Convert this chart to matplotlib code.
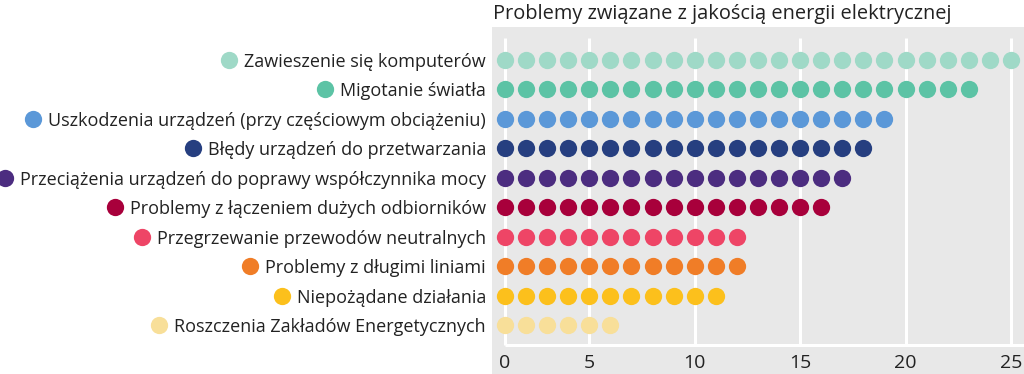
import matplotlib.pyplot as plt
import numpy as np

plt.rcParams['font.family'] = ['Open Sans', 'DejaVu Sans']

categories = [
    'Zawieszenie się komputerów',
    'Migotanie światła',
    'Uszkodzenia urządzeń (przy częściowym obciążeniu)',
    'Błędy urządzeń do przetwarzania',
    'Przeciążenia urządzeń do poprawy współczynnika mocy',
    'Problemy z łączeniem dużych odbiorników',
    'Przegrzewanie przewodów neutralnych',
    'Problemy z długimi liniami',
    'Niepożądane działania',
    'Roszczenia Zakładów Energetycznych',
]
values = [25, 23, 19, 18, 17, 16, 12, 12, 11, 6]
colors = ['#9fd9c7', '#5cc3a5', '#5b98d8', '#263f80', '#4c2d80',
          '#a8003b', '#ee4566', '#f07d27', '#fcc01c', '#f8df99']
tick_pos = [1, 5, 10, 15, 20, 25]
tick_labels = ['0', '5', '10', '15', '20', '25']
title = 'Problemy związane z jakością energii elektrycznej'

W, H = 1024, 374
fig = plt.figure(figsize=(W / 100, H / 100), dpi=100)

# gray panel, pixel geometry
ax = fig.add_axes([492 / W, 0, (W - 492) / W, (H - 27) / H])
ax.set_facecolor('#e8e8e8')
unit = 21.08        # px per value
row = 29.44         # px per row
x0 = 1 + (492 - 505) / unit
x1 = 1 + (W - 505) / unit
ax.set_xlim(x0, x1)
ax.set_ylim((H - 60) / row, (27 - 60) / row)
for s in ax.spines.values():
    s.set_visible(False)
ax.set_xticks([])
ax.set_yticks([])

y_top = (38 - 60) / row
y_base = (345 - 60) / row
ax.vlines(tick_pos, y_top, y_base, color='white', lw=2.2, zorder=1)
ax.hlines(y_base, tick_pos[0], x1, color='white', lw=2.2, zorder=1)
for t, lab in zip(tick_pos, tick_labels):
    ax.text(t, (363 - 60) / row, lab, ha='center', va='center',
            fontsize=14, color='#222222')

msize = 155
for i, (v, c) in enumerate(zip(values, colors)):
    ax.scatter(np.arange(1, v + 1), [i] * v, s=msize, color=c,
               linewidths=0, zorder=3)

# row labels with a coloured dot in front
fig.canvas.draw()
r = fig.canvas.get_renderer()
inv = ax.transData.inverted()
lx = 1 + (486 - 505) / unit
for i, (cat, c) in enumerate(zip(categories, colors)):
    t = ax.text(lx, i, cat, ha='right', va='center_baseline', fontsize=13,
                color='#222222', clip_on=False)
    bb = t.get_window_extent(renderer=r)
    left = inv.transform((bb.x0 - 15, 0))[0]
    ax.scatter([left], [i], s=msize, color=c, linewidths=0, clip_on=False,
               zorder=3)

fig.text(493 / W, 1 - 19 / H, title, ha='left', va='baseline',
         fontsize=14.4, color='#222222')

fig.savefig('out.png', dpi=100)
